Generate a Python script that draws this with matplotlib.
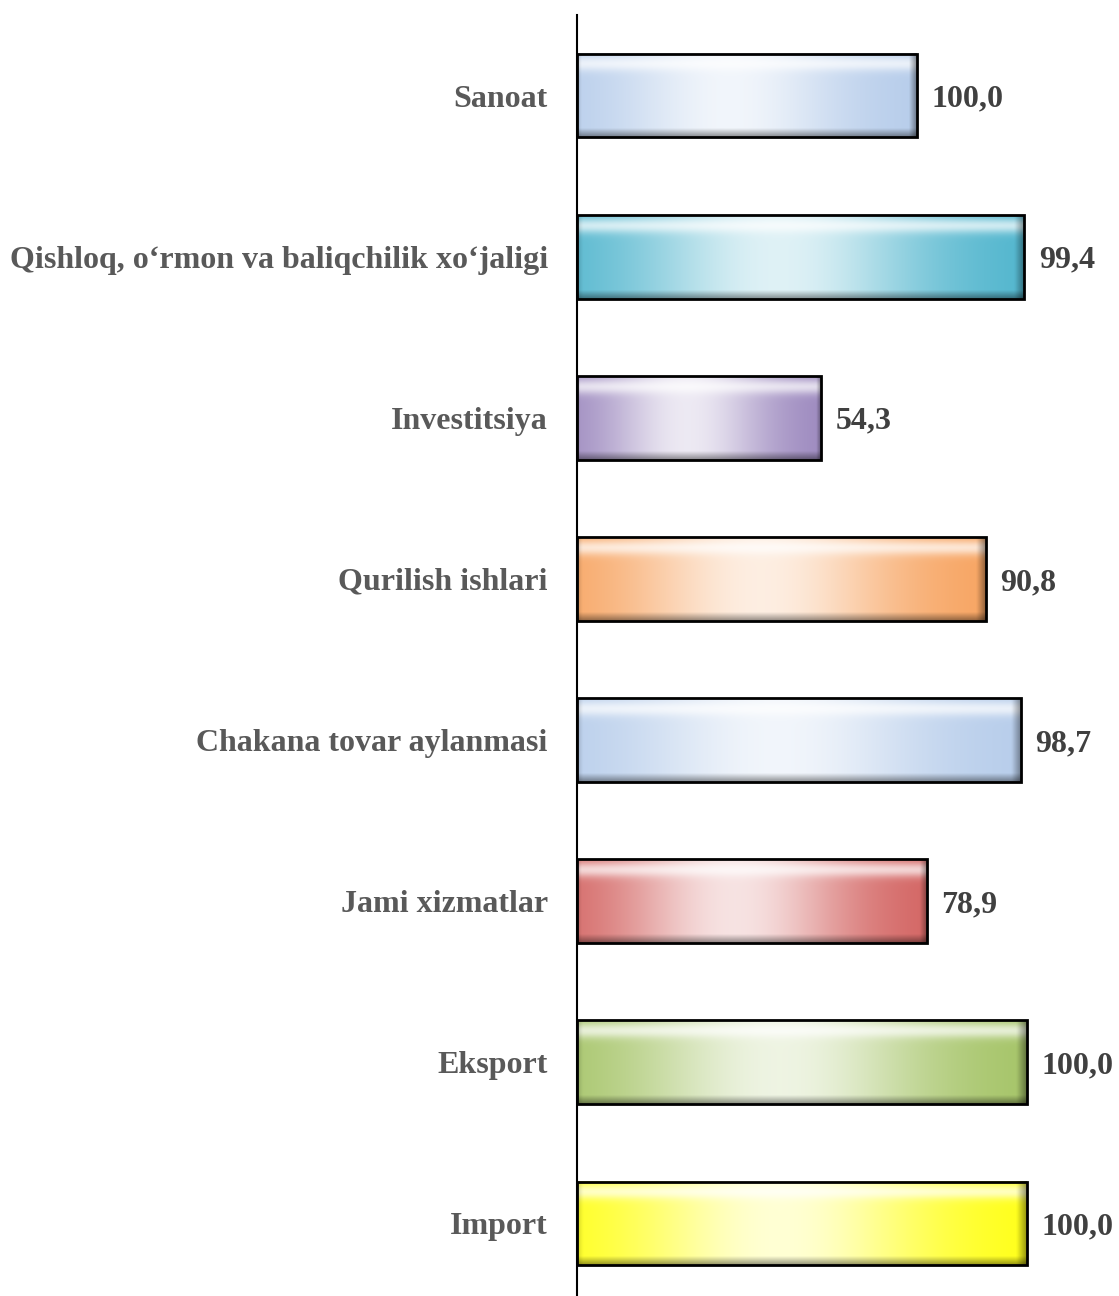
import matplotlib
matplotlib.use("Agg")
import matplotlib.pyplot as plt
import numpy as np
from matplotlib.colors import to_rgb

# === DATA ===
categories = [
    "Sanoat",
    "Qishloq, o\u2018rmon va baliqchilik xo\u2018jaligi",
    "Investitsiya",
    "Qurilish ishlari",
    "Chakana tovar aylanmasi",
    "Jami xizmatlar",
    "Eksport",
    "Import",
]
# bar lengths as drawn in the picture
bar_values = [75.5, 99.4, 54.3, 90.8, 98.7, 77.8, 100.0, 100.0]
# numbers printed next to the bars
value_labels = ["100,0", "99,4", "54,3", "90,8", "98,7", "78,9", "100,0", "100,0"]
bar_colors = ["#b4cbea", "#4bb3cc", "#9a86bd", "#f7a15c", "#b4cbea", "#d2605e", "#a2c262", "#ffff10"]


# === GRADIENT_IMAGE ===
# Build a bevelled, glossy gradient for one bar.
def gradient_image(color, w=300, h=60):
    c = np.array(to_rgb(color))
    white = np.ones(3)
    x = np.linspace(0, 1, w)
    y = np.linspace(0, 1, h)
    # horizontal: coloured at the ends, pale in the middle-left
    hw = 0.82 * np.exp(-((x - 0.45) / 0.33) ** 2)
    img = c[None, None, :] * (1 - hw[None, :, None]) + white[None, None, :] * hw[None, :, None]
    img = np.repeat(img, h, axis=0)
    # top highlight band
    top = np.exp(-((y - 0.12) / 0.09) ** 2) * 0.7
    img = img * (1 - top[:, None, None]) + white[None, None, :] * top[:, None, None]
    # bevel shading at the bottom and at the right end
    bot = np.clip((y - 0.9) / 0.1, 0, 1) * 0.4
    img = img * (1 - bot[:, None, None])
    right = np.clip((x - 0.978) / 0.022, 0, 1) * 0.4
    img = img * (1 - right[None, :, None])
    left = np.clip((0.012 - x) / 0.012, 0, 1) * 0.15
    img = img * (1 - left[None, :, None])
    return np.clip(img, 0, 1)


def main():
    fig = plt.figure(figsize=(11.19, 12.96), dpi=100)
    ax = fig.add_axes([577 / 1119, -8 / 1296, (1119 - 577) / 1119, 1289 / 1296])

    n = len(categories)
    ypos = np.arange(n)[::-1]
    bar_h = 0.52
    px_per_unit = 4.5
    ax.set_xlim(0, (1119 - 577) / px_per_unit)
    ax.set_ylim(-0.5, n - 0.5)

    for y, v, col, lab in zip(ypos, bar_values, bar_colors, value_labels):
        ax.imshow(gradient_image(col), extent=(0, v, y - bar_h / 2, y + bar_h / 2),
                  aspect="auto", origin="upper", interpolation="bilinear", zorder=2)
        ax.barh(y, v, height=bar_h, facecolor="none", edgecolor="black", linewidth=2, zorder=3)
        ax.text(v + 3.2, y, lab, va="center_baseline", ha="left", fontsize=23, fontweight="bold",
                family="Liberation Serif", color="#404040", zorder=4)

    ax.set_yticks(ypos)
    ax.set_yticklabels(categories, fontsize=23, fontweight="bold", family="Liberation Serif",
                       color="#595959")
    ax.tick_params(axis="y", length=0, pad=21)
    ax.set_xticks([])
    for s in ["top", "right", "bottom"]:
        ax.spines[s].set_visible(False)
    ax.spines["left"].set_linewidth(1.5)
    ax.spines["left"].set_color("black")

    fig.savefig("out.png", dpi=100)


if __name__ == "__main__":
    main()
